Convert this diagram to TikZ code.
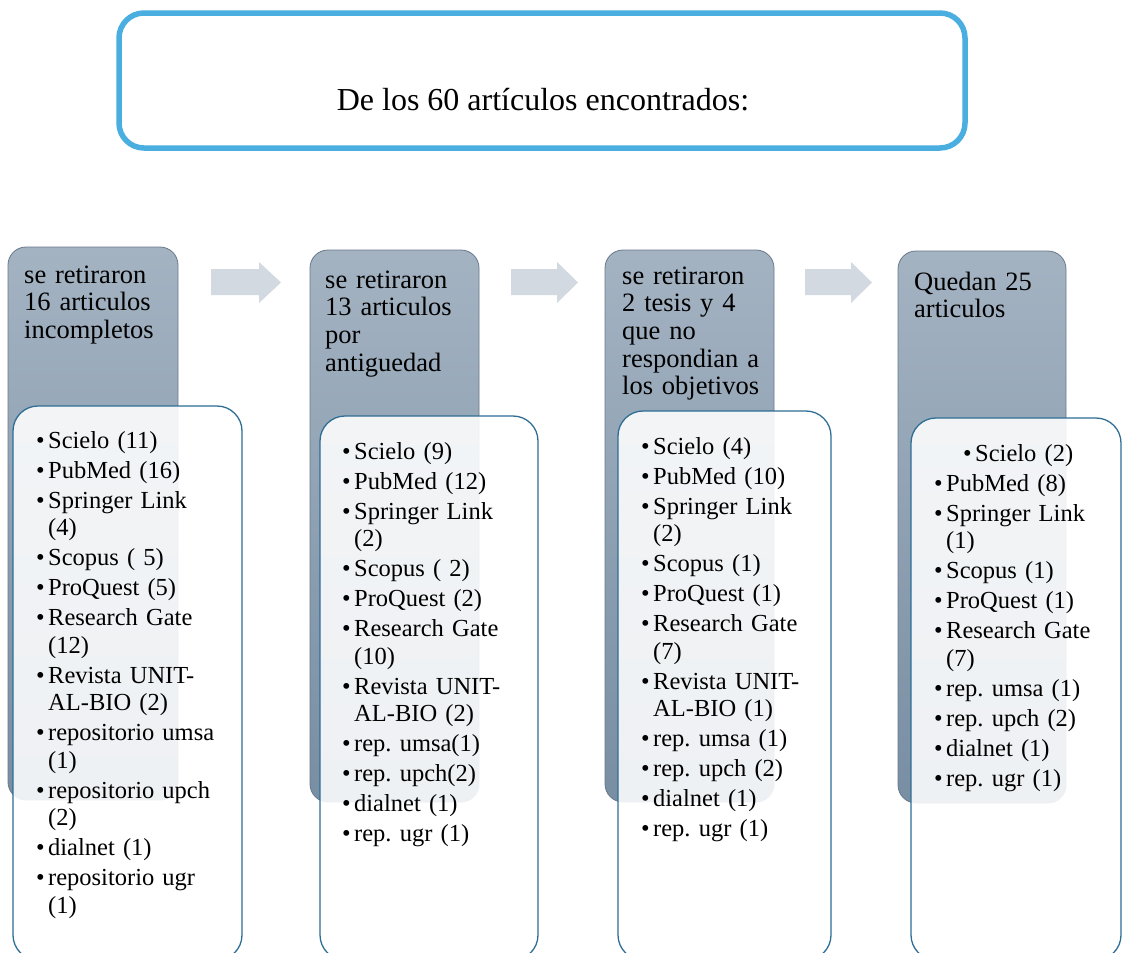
\documentclass[tikz,border=0pt]{standalone}
\usepackage{fontspec}
\setmainfont{Liberation Serif}
\frenchspacing
\definecolor{titleblue}{RGB}{75,174,224}
\definecolor{graytop}{RGB}{164,179,194}
\definecolor{graybot}{RGB}{120,142,163}
\definecolor{grayedge}{RGB}{104,121,138}
\definecolor{listedge}{RGB}{46,110,148}
\definecolor{arrowgray}{RGB}{211,217,224}
\newcommand\bi[1]{\hangindent=12pt\hangafter=1\noindent\strut\hbox to 12pt{\textbullet\hss}#1\par}
\newcommand\bifirst[2]{\hangindent=12pt\hangafter=1\noindent\strut\hspace*{#1}\hbox to 12pt{\textbullet\hss}#2\par}
\tikzset{
  gbox/.style={draw=grayedge, line width=0.8pt, rounded corners=18pt, top color=graytop, bottom color=graybot},
  wbox/.style={draw=listedge, line width=1.3pt, rounded corners=25pt, fill=white, fill opacity=0.88},
  gtext/.style={anchor=north west, inner sep=0pt, text width=200pt, align=left, font=\fontsize{26.5}{27.7}\selectfont},
  ltext/.style={anchor=north west, inner sep=0pt, text width=300pt, font=\fontsize{24.5}{27.5}\selectfont\frenchspacing},
  arrowshape/.style={fill=arrowgray, draw=none},
}
\begin{document}
\begin{tikzpicture}[x=1pt, y=-1pt]
\clip (0,0) rectangle (1122,953);
\fill[white] (0,0) rectangle (1122,953);

% title box
\draw[titleblue, line width=5.5pt, rounded corners=25pt, fill=white] (119,13) rectangle (965,148);
\node[anchor=base, inner sep=0pt, font=\fontsize{32}{36}\selectfont] (title) at (543,110) {De los 60 artículos encontrados:};

% arrows
\fill[arrowshape] (211,269) -- (259,269) -- (259,262) -- (281,282.5) -- (259,303) -- (259,295) -- (211,295) -- cycle;
\fill[arrowshape] (511,269) -- (557,269) -- (557,262) -- (578,282.5) -- (557,303) -- (557,295) -- (511,295) -- cycle;
\fill[arrowshape] (805,269) -- (851,269) -- (851,262) -- (872,282.5) -- (851,303) -- (851,295) -- (805,295) -- cycle;

% gray boxes
\path[gbox] (8,247) rectangle (178,800);
\path[gbox] (310,250) rectangle (479,802);
\path[gbox] (605,250) rectangle (774,802);
\path[gbox] (898,251) rectangle (1066,803);

\node[gtext] (g1) at (24,263.6) {\strut se retiraron\\16 articulos\\incompletos};
\node[gtext] (g2) at (325,268.6) {\strut se retiraron\\13 articulos\\por\\antiguedad};
\node[gtext] (g3) at (622,264.6) {\strut se retiraron\\2 tesis y 4\\que no\\respondian a\\los objetivos};
\node[gtext] (g4) at (914,270.6) {\strut Quedan 25\\articulos};

% white list boxes
\path[wbox] (13,406) rectangle (242,960);
\path[wbox] (320,416) rectangle (538,960);
\path[wbox] (618,411) rectangle (831,960);
\path[wbox] (911,418) rectangle (1121,960);

\node[ltext] (l1) at (36,428.75) {\parskip=2.5pt\relax%
\bi{Scielo (11)}%
\bi{PubMed (16)}%
\bi{Springer Link\newline(4)}%
\bi{Scopus ( 5)}%
\bi{ProQuest (5)}%
\bi{Research Gate\newline(12)}%
\bi{Revista UNIT-\newline AL-BIO (2)}%
\bi{repositorio umsa\newline(1)}%
\bi{repositorio upch\newline(2)}%
\bi{dialnet (1)}%
\bi{repositorio ugr\newline(1)}};

\node[ltext] (l2) at (342,439.75) {\parskip=2.5pt\relax%
\bi{Scielo (9)}%
\bi{PubMed (12)}%
\bi{Springer Link\newline(2)}%
\bi{Scopus ( 2)}%
\bi{ProQuest (2)}%
\bi{Research Gate\newline(10)}%
\bi{Revista UNIT-\newline AL-BIO (2)}%
\bi{rep. umsa(1)}%
\bi{rep. upch(2)}%
\bi{dialnet (1)}%
\bi{rep. ugr (1)}};

\node[ltext] (l3) at (641,434.75) {\parskip=2.5pt\relax%
\bi{Scielo (4)}%
\bi{PubMed (10)}%
\bi{Springer Link\newline(2)}%
\bi{Scopus (1)}%
\bi{ProQuest (1)}%
\bi{Research Gate\newline(7)}%
\bi{Revista UNIT-\newline AL-BIO (1)}%
\bi{rep. umsa (1)}%
\bi{rep. upch (2)}%
\bi{dialnet (1)}%
\bi{rep. ugr (1)}};

\node[ltext] (l4) at (934,441.75) {\parskip=2.5pt\relax%
\bifirst{29pt}{Scielo (2)}%
\bi{PubMed (8)}%
\bi{Springer Link\newline(1)}%
\bi{Scopus (1)}%
\bi{ProQuest (1)}%
\bi{Research Gate\newline(7)}%
\bi{rep. umsa (1)}%
\bi{rep. upch (2)}%
\bi{dialnet (1)}%
\bi{rep. ugr (1)}};
\end{tikzpicture}
\end{document}
